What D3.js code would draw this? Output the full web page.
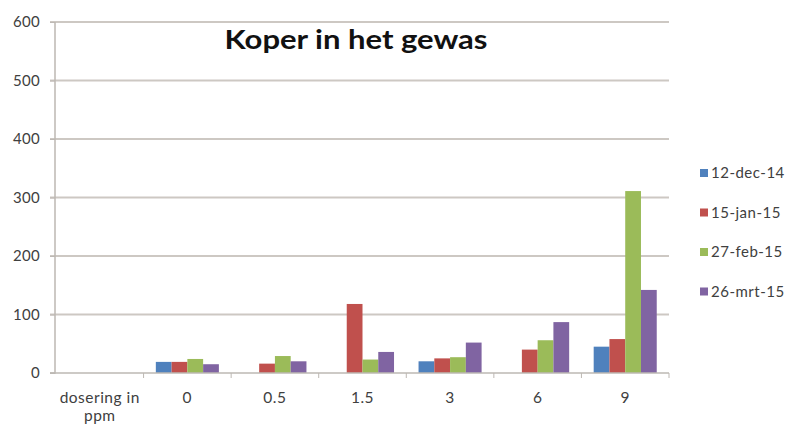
<!DOCTYPE html>
<html><head><meta charset="utf-8">
<script src="https://cdn.jsdelivr.net/npm/d3@7"></script>
<style>body{margin:0;background:#fff}svg{display:block}</style>
</head><body>
<svg id="c" width="791" height="428"></svg>
<script>
const categories = ["dosering in ppm", "0", "0.5", "1.5", "3", "6", "9"];
const seriesNames = ["12-dec-14", "15-jan-15", "27-feb-15", "26-mrt-15"];
const seriesColors = ["#4F81BD", "#C0504D", "#9BBB59", "#8064A2"];
const s1 = [null, 19, null, null, 20, null, 45];
const s2 = [null, 19, 16, 118, 25, 40, 58];
const s3 = [null, 24, 29, 23, 27, 56, 311];
const s4 = [null, 15, 20, 36, 52, 87, 142];
const seriesValues = [s1, s2, s3, s4];
const yTicks = [0, 100, 200, 300, 400, 500, 600];
const title = "Koper in het gewas";

const svg = d3.select("#c");
const L = 55, R = 669, T = 22, B = 373;
const font = "Lato, 'Open Sans', sans-serif";
const y = d3.scaleLinear().domain([0, 600]).range([B, T]);
const xb = d3.scaleBand().domain(categories).range([L + 1, R]).paddingInner(0).paddingOuter(0);
const x1 = d3.scaleBand().domain(seriesNames).range([xb.bandwidth()*0.14, xb.bandwidth()*0.86]);

// gridlines
svg.append("g").selectAll("line").data(yTicks.filter(d => d > 0)).join("line")
  .attr("x1", L - 5).attr("x2", R).attr("y1", d => y(d)).attr("y2", d => y(d))
  .attr("stroke", "#cdc8c3").attr("stroke-width", 2);

// y axis
const ya = svg.append("g").attr("transform", `translate(${L},0)`)
  .call(d3.axisLeft(y).tickValues(yTicks).tickSize(5).tickPadding(10));
ya.select(".domain").attr("stroke", "#bdb8b3").attr("stroke-width", 1.5).attr("d", `M-5,${B}H0V${T}`);
ya.selectAll(".tick line").attr("stroke", "#bdb8b3");
ya.selectAll("text").attr("font-family", font).attr("font-size", 15).attr("letter-spacing", 0.3).attr("fill", "#404040");

// bars
const groups = svg.append("g").selectAll("g").data(seriesNames).join("g")
  .attr("fill", (d, i) => seriesColors[i]);
groups.selectAll("rect").data((d, i) => categories.map((c, j) => ({c, s: d, v: seriesValues[i][j]})).filter(e => e.v != null))
  .join("rect")
  .attr("x", e => xb(e.c) + x1(e.s)).attr("width", x1.bandwidth())
  .attr("y", e => y(e.v)).attr("height", e => y(0) - y(e.v));

// x axis
const xa = svg.append("g").attr("transform", `translate(0,${B})`);
xa.append("line").attr("x1", L - 5).attr("x2", R).attr("y1", 0).attr("y2", 0).attr("stroke", "#bdb8b3").attr("stroke-width", 1.5);
const bounds = categories.map(c => xb(c) + xb.bandwidth());
xa.selectAll("line.t").data(bounds).join("line").attr("class", "t")
  .attr("x1", d => d).attr("x2", d => d).attr("y1", 0).attr("y2", 5).attr("stroke", "#bdb8b3");
xa.selectAll("text").data(categories).join("text")
  .attr("x", c => xb(c) + xb.bandwidth()/2).attr("y", 30)
  .attr("text-anchor", "middle").attr("font-family", font).attr("font-size", 15.5).attr("letter-spacing", 0.5).attr("fill", "#404040")
  .each(function(c) {
    const t = d3.select(this);
    if (c === "dosering in ppm") {
      t.append("tspan").attr("x", xb(c) + xb.bandwidth()/2).attr("dy", 0).text("dosering in");
      t.append("tspan").attr("x", xb(c) + xb.bandwidth()/2).attr("dy", 18).text("ppm");
    } else t.text(c);
  });

// title
svg.append("text").attr("x", 356).attr("y", 49).attr("text-anchor", "middle")
  .attr("font-family", font).attr("font-weight", "bold").attr("font-size", 27)
  .attr("textLength", 263).attr("lengthAdjust", "spacingAndGlyphs")
  .attr("fill", "#111").text(title);

// legend
const lg = svg.append("g").selectAll("g").data(seriesNames).join("g")
  .attr("transform", (d, i) => `translate(700,${173 + i*39.5})`);
lg.append("rect").attr("x", 0).attr("y", -4).attr("width", 8).attr("height", 8).attr("fill", (d, i) => seriesColors[i]);
lg.append("text").attr("x", 11).attr("y", 5).attr("font-family", font).attr("font-size", 15).attr("letter-spacing", 0.5).attr("fill", "#404040").text(d => d);
</script>
</body></html>
